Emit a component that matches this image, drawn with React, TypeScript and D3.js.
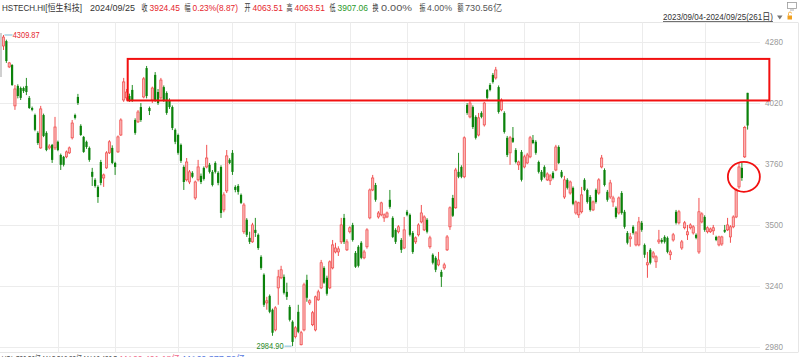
import React from 'react';
import * as d3 from 'd3';

const W = 800;
const H = 357;

// OHLC for 261 trading days, 2023/09/04 - 2024/09/25
const openP = [
  4263, 4284, 4174, 4182, 4008, 4093, 4084, 4084, 4093, 4042, 3999, 3969, 3893, 3829, 3969, 3893, 3829, 3842, 3829, 3855,
  3799, 3791, 3791, 3808, 3872, 3969, 4046, 3923, 3876, 3855, 3829, 3727, 3693, 3663, 3769, 3701, 3744, 3808, 3829, 3765,
  3812, 3884, 4033, 4042, 4050, 4076, 3948, 3940, 4003, 4046, 4169, 3999, 4033, 4140, 4067, 4042, 4088, 4063, 4033, 4003,
  3906, 3884, 3842, 3748, 3693, 3684, 3723, 3616, 3693, 3710, 3744, 3748, 3757, 3727, 3765, 3723, 3748, 3565, 3646, 3778,
  3808, 3663, 3667, 3629, 3472, 3523, 3446, 3429, 3480, 3459, 3365, 3289, 3169, 3199, 3140, 3054, 3233, 3276, 3280, 3216,
  3152, 3089, 3025, 3131, 2991, 3054, 3267, 3169, 3076, 3054, 3182, 3233, 3318, 3276, 3233, 3318, 3386, 3386, 3429, 3531,
  3395, 3472, 3501, 3382, 3408, 3425, 3361, 3408, 3531, 3650, 3671, 3535, 3544, 3531, 3535, 3608, 3531, 3480, 3472, 3437,
  3403, 3557, 3544, 3467, 3429, 3459, 3514, 3480, 3523, 3408, 3374, 3361, 3331, 3301, 3318, 3395, 3493, 3616, 3574, 3727,
  3748, 3706, 4012, 3961, 4003, 3961, 3884, 3978, 3927, 4076, 4097, 4140, 4127, 4088, 3991, 3978, 3872, 3808, 3872, 3820,
  3757, 3812, 3748, 3765, 3791, 3863, 3855, 3769, 3727, 3748, 3693, 3689, 3723, 3735, 3833, 3727, 3620, 3693, 3637, 3659,
  3552, 3544, 3557, 3693, 3650, 3620, 3565, 3650, 3637, 3748, 3735, 3642, 3620, 3599, 3574, 3552, 3637, 3557, 3467, 3442,
  3493, 3416, 3416, 3510, 3416, 3331, 3395, 3365, 3344, 3429, 3437, 3450, 3446, 3374, 3437, 3557, 3510, 3403, 3489, 3459,
  3489, 3467, 3459, 3386, 3514, 3535, 3472, 3472, 3476, 3450, 3416, 3420, 3480, 3480, 3450, 3493, 3535, 3663, 3744, 3791,
  4063.51,
];
const highP = [
  4309.87, 4290, 4195, 4186, 4097, 4100, 4090, 4090, 4127, 4050, 4005, 3975, 3900, 4008, 3975, 3900, 3845, 3846, 3961, 3860,
  3805, 3795, 3818, 3835, 3948, 3975, 4059, 3930, 3880, 3860, 3835, 3744, 3700, 3670, 3778, 3720, 3815, 3862, 3840, 3770,
  3882, 3955, 4127, 4080, 4060, 4097, 3955, 3990, 4020, 4131, 4178, 4005, 4090, 4152, 4080, 4127, 4095, 4070, 4040, 4010,
  3912, 3890, 3848, 3755, 3786, 3735, 3730, 3690, 3778, 3720, 3750, 3842, 3765, 3735, 3772, 3730, 3755, 3640, 3820, 3785,
  3820, 3670, 3675, 3635, 3595, 3530, 3472, 3510, 3531, 3465, 3372, 3295, 3195, 3205, 3145, 3155, 3310, 3327, 3290, 3255,
  3160, 3095, 3070, 3161, 3050, 3255, 3289, 3185, 3135, 3200, 3225, 3352, 3325, 3285, 3350, 3437, 3425, 3410, 3531, 3548,
  3440, 3495, 3510, 3390, 3415, 3432, 3395, 3487, 3656, 3714, 3680, 3560, 3600, 3550, 3558, 3650, 3538, 3487, 3500, 3445,
  3535, 3565, 3550, 3475, 3452, 3508, 3586, 3542, 3530, 3455, 3380, 3368, 3386, 3310, 3340, 3458, 3580, 3629, 3744, 3808,
  3755, 3878, 4020, 4033, 4010, 3968, 3978, 3985, 4025, 4080, 4105, 4148, 4174, 4095, 4040, 3985, 3880, 3880, 3918, 3828,
  3775, 3820, 3800, 3808, 3880, 3884, 3862, 3775, 3735, 3755, 3725, 3718, 3730, 3842, 3840, 3735, 3710, 3700, 3690, 3665,
  3605, 3600, 3663, 3700, 3656, 3628, 3605, 3656, 3700, 3799, 3742, 3650, 3693, 3625, 3580, 3622, 3645, 3565, 3475, 3467,
  3500, 3475, 3535, 3518, 3422, 3386, 3402, 3390, 3372, 3480, 3445, 3457, 3452, 3395, 3467, 3565, 3565, 3437, 3518, 3501,
  3508, 3500, 3465, 3616, 3555, 3542, 3495, 3490, 3501, 3455, 3455, 3455, 3501, 3531, 3500, 3542, 3656, 3765, 3765, 3923,
  4063.51,
];
const lowP = [
  4246, 4191, 4169, 4093, 3991, 4040, 4033, 4063, 4054, 3995, 3985, 3900, 3842, 3825, 3875, 3815, 3822, 3765, 3820, 3815,
  3735, 3750, 3785, 3803, 3865, 3950, 4012, 3880, 3808, 3825, 3770, 3667, 3660, 3595, 3670, 3663, 3740, 3803, 3760, 3714,
  3808, 3880, 4025, 4030, 4025, 4025, 3885, 3935, 3940, 4040, 4040, 3969, 4020, 4025, 4012, 4035, 4025, 3970, 3995, 3905,
  3845, 3800, 3765, 3650, 3686, 3675, 3700, 3608, 3686, 3675, 3690, 3742, 3720, 3665, 3720, 3670, 3531, 3555, 3637, 3760,
  3714, 3640, 3630, 3590, 3463, 3450, 3420, 3425, 3450, 3395, 3310, 3152, 3140, 3125, 3029, 3048, 3161, 3270, 3205, 3182,
  3090, 2984.9, 3018, 3040, 2988, 3048, 3174, 3160, 3070, 3048, 3178, 3228, 3250, 3200, 3228, 3312, 3380, 3369, 3420, 3420,
  3390, 3465, 3430, 3318, 3320, 3355, 3355, 3400, 3525, 3645, 3600, 3528, 3538, 3514, 3530, 3570, 3445, 3420, 3465, 3382,
  3398, 3538, 3452, 3378, 3420, 3452, 3508, 3475, 3465, 3400, 3333, 3300, 3325, 3237, 3310, 3390, 3480, 3535, 3570, 3700,
  3700, 3700, 3970, 3955, 3910, 3865, 3878, 3955, 3920, 4035, 4070, 4103, 4120, 3975, 3985, 3890, 3790, 3757, 3850, 3763,
  3735, 3686, 3742, 3760, 3785, 3845, 3800, 3720, 3686, 3700, 3688, 3671, 3695, 3730, 3760, 3700, 3612, 3652, 3630, 3585,
  3545, 3531, 3550, 3645, 3592, 3558, 3560, 3592, 3630, 3742, 3665, 3600, 3612, 3578, 3528, 3545, 3545, 3485, 3418, 3408,
  3460, 3410, 3410, 3472, 3361, 3276, 3333, 3358, 3318, 3420, 3422, 3422, 3380, 3352, 3430, 3503, 3503, 3395, 3482, 3437,
  3482, 3460, 3440, 3378, 3508, 3472, 3465, 3467, 3459, 3432, 3410, 3412, 3467, 3475, 3425, 3487, 3530, 3655, 3689, 3786,
  3907.06,
];
const closeP = [
  4301, 4199, 4191, 4097, 4080, 4050, 4042, 4071, 4067, 3999, 3991, 3906, 3850, 3995, 3880, 3820, 3837, 3778, 3918, 3820,
  3757, 3757, 3812, 3829, 3935, 3957, 4020, 3884, 3812, 3833, 3778, 3706, 3667, 3620, 3680, 3714, 3808, 3855, 3765, 3748,
  3876, 3948, 4110, 4067, 4033, 4033, 3893, 3982, 3948, 4123, 4050, 3986, 4084, 4033, 4020, 4118, 4033, 3978, 4003, 3914,
  3855, 3808, 3774, 3684, 3769, 3727, 3706, 3684, 3748, 3684, 3697, 3786, 3727, 3671, 3727, 3680, 3552, 3629, 3795, 3765,
  3727, 3650, 3642, 3595, 3586, 3459, 3429, 3501, 3467, 3403, 3318, 3161, 3178, 3131, 3042, 3148, 3280, 3310, 3212, 3195,
  3097, 3003, 3063, 3046, 3042, 3246, 3191, 3178, 3127, 3195, 3216, 3340, 3255, 3208, 3344, 3416, 3403, 3399, 3501, 3429,
  3429, 3489, 3437, 3323, 3327, 3361, 3386, 3480, 3650, 3701, 3608, 3552, 3595, 3544, 3552, 3578, 3450, 3429, 3493, 3395,
  3480, 3544, 3459, 3386, 3446, 3501, 3552, 3535, 3472, 3446, 3340, 3310, 3352, 3280, 3331, 3450, 3574, 3540, 3735, 3706,
  3706, 3872, 3978, 4020, 3918, 3872, 3957, 3961, 4020, 4042, 4076, 4110, 4161, 3982, 4033, 3897, 3799, 3872, 3855, 3769,
  3769, 3693, 3791, 3799, 3872, 3850, 3808, 3727, 3693, 3706, 3718, 3710, 3701, 3833, 3765, 3706, 3693, 3659, 3684, 3591,
  3599, 3595, 3629, 3650, 3599, 3565, 3599, 3599, 3693, 3786, 3671, 3608, 3680, 3616, 3535, 3616, 3552, 3493, 3425, 3450,
  3467, 3467, 3514, 3480, 3374, 3340, 3340, 3382, 3365, 3437, 3429, 3429, 3386, 3386, 3459, 3510, 3557, 3429, 3510, 3472,
  3501, 3493, 3446, 3557, 3548, 3480, 3489, 3484, 3489, 3437, 3450, 3450, 3472, 3501, 3493, 3535, 3650, 3748, 3701, 3915.58,
  3924.45,
];

const yTicks = [4280, 4020, 3760, 3500, 3240, 2980];
// index of first trading day of each month (Oct 2023 ... Sep 2024)
const monthStartIdx = [19, 39, 61, 80, 102, 121, 141, 161, 182, 201, 223, 245];

// annotations
const zoneLow = 4031;
const zoneHigh = 4208;
const zoneStartIdx = 43.4;
const zoneEndIdx = 267.6;
const circleIdx = 258.7;
const circlePrice = 3706;

const headerItems = [
  { t: 'HSTECH.HI[恒生科技]', x: 2, w: 80, c: '#333' },
  { t: '2024/09/25', x: 90, w: 45, c: '#333' },
  { t: '收', x: 141.5, w: 6, c: '#333' },
  { t: '3924.45', x: 149.5, w: 30.5, c: '#e5262d' },
  { t: '幅', x: 184.5, w: 6, c: '#333' },
  { t: '0.23%(8.87)', x: 192.5, w: 45.5, c: '#e5262d' },
  { t: '开', x: 244.5, w: 6, c: '#333' },
  { t: '4063.51', x: 252.5, w: 30.5, c: '#e5262d' },
  { t: '高', x: 286.5, w: 6, c: '#333' },
  { t: '4063.51', x: 294.5, w: 30.5, c: '#e5262d' },
  { t: '低', x: 329.5, w: 6, c: '#333' },
  { t: '3907.06', x: 337.5, w: 30.5, c: '#2a9a2a' },
  { t: '换', x: 372.5, w: 6, c: '#333' },
  { t: '0.00%', x: 381, w: 31, c: '#555' },
  { t: '振', x: 419.5, w: 6, c: '#333' },
  { t: '4.00%', x: 427, w: 25, c: '#555' },
  { t: '额', x: 457.5, w: 6, c: '#333' },
  { t: '730.56亿', x: 465, w: 37, c: '#555' },
];

const footerItems = [
  { t: 'VOL:730.56亿 MA5:512.33亿 MA10:436.7', x: 2, w: 115, c: '#555' },
  { t: 'MA20:401.18亿', x: 120, w: 60, c: '#f06a8a' },
  { t: 'MA60:377.52亿', x: 183, w: 62, c: '#5a7be0' },
];

export default function App() {
  const n = openP.length;
  const x = d3.scaleLinear().domain([0, n - 1]).range([3.5, 747.6]);
  const y = d3.scaleLinear().domain([2980, 4280]).range([347.3, 42]);
  const font = '"Liberation Sans", Arial, "Noto Sans CJK SC", sans-serif';
  const bw = 2.2;

  const candles = d3.range(n).map((i) => {
    const o = openP[i], h = highP[i], l = lowP[i], c = closeP[i];
    const up = c >= o;
    const cx = x(i);
    const top = y(Math.max(o, c));
    const bot = y(Math.min(o, c));
    const col = up ? '#f03c3c' : '#0b820b';
    return (
      <g key={i}>
        <line x1={cx} x2={cx} y1={y(h)} y2={y(l)} stroke={col} strokeWidth={0.9} />
        {up ? (
          <rect x={cx - bw / 2} y={top} width={bw} height={Math.max(bot - top, 0.8)} fill="#f9b4b4" stroke="#f04848" strokeWidth={0.7} />
        ) : (
          <rect x={cx - bw / 2} y={top} width={bw} height={Math.max(bot - top, 0.8)} fill={col} />
        )}
      </g>
    );
  });

  const maxI = d3.maxIndex(highP);
  const minI = d3.minIndex(lowP);

  return (
    <svg width={W} height={H} style={{ position: 'absolute', left: 0, top: 0, background: '#fff' }} fontFamily={font}>
      <rect x={0} y={0} width={W} height={H} fill="#fff" />
      {/* grid */}
      <line x1={0} x2={798} y1={22.5} y2={22.5} stroke="#e6e6e6" />
      <line x1={0} x2={798} y1={352.5} y2={352.5} stroke="#e6e6e6" />
      <line x1={798.5} x2={798.5} y1={22.5} y2={352.5} stroke="#e6e6e6" />
      {yTicks.map((v) => (
        <line key={v} x1={0} x2={760} y1={Math.round(y(v)) + 0.5} y2={Math.round(y(v)) + 0.5} stroke="#ececec" />
      ))}
      {monthStartIdx.map((i) => (
        <line key={i} x1={Math.round(x(i)) + 0.5} x2={Math.round(x(i)) + 0.5} y1={22.5} y2={352.5} stroke="#ececec" />
      ))}
      <rect x={0} y={33} width={2} height={44} fill="#d0d0d0" />
      {/* axis labels */}
      {yTicks.map((v) => (
        <text key={v} x={765} y={y(v) + 3} fontSize={8.5} fill="#9a9a9a" textLength={18} lengthAdjust="spacingAndGlyphs">
          {v}
        </text>
      ))}
      {/* candles */}
      {candles}
      {/* extremes */}
      <line x1={x(maxI) + 1} x2={x(maxI) + 9} y1={y(highP[maxI])} y2={y(highP[maxI])} stroke="#5aa9c9" strokeWidth={0.8} />
      <text x={x(maxI) + 9.2} y={y(highP[maxI]) + 3} fontSize={9} fill="#e5262d" textLength={27} lengthAdjust="spacingAndGlyphs">
        {highP[maxI].toFixed(2)}
      </text>
      <line x1={x(minI) - 8} x2={x(minI) - 1} y1={y(lowP[minI])} y2={y(lowP[minI])} stroke="#5aa9c9" strokeWidth={0.8} />
      <text x={x(minI) - 36} y={y(lowP[minI]) + 3} fontSize={9} fill="#2a8a2a" textLength={27} lengthAdjust="spacingAndGlyphs">
        {lowP[minI].toFixed(2)}
      </text>
      {/* annotations */}
      <rect
        x={x(zoneStartIdx)}
        y={y(zoneHigh)}
        width={x(zoneEndIdx) - x(zoneStartIdx)}
        height={y(zoneLow) - y(zoneHigh)}
        fill="none"
        stroke="#f21010"
        strokeWidth={2}
      />
      <ellipse cx={x(circleIdx)} cy={y(circlePrice)} rx={16} ry={15} fill="none" stroke="#f21010" strokeWidth={1.8} />
      {/* header */}
      {headerItems.map((d, k) => (
        <text key={k} x={d.x} y={10.5} fontSize={9} fill={d.c} textLength={d.w} lengthAdjust="spacingAndGlyphs">
          {d.t}
        </text>
      ))}
      <text x={663} y={20} fontSize={9} fill="#333" textLength={110} lengthAdjust="spacingAndGlyphs">
        2023/09/04-2024/09/25(261日)
      </text>
      <line x1={663} x2={773} y1={21.5} y2={21.5} stroke="#333" strokeWidth={0.7} />
      <path d="M777,15.5 h5.5 l-2.75,4 z" fill="#777" />
      <rect x={787.5} y={15.5} width={4.5} height={4} fill="#f0a020" />
      <path d="M788.5,15.5 v-2 a1.5,1.5 0 0 1 3,0" fill="none" stroke="#f0a020" strokeWidth={0.8} />
      <rect x={787.5} y={2.5} width={9} height={6} fill="none" stroke="#999" strokeWidth={0.8} />
      <line x1={790} x2={794} y1={10} y2={10} stroke="#999" strokeWidth={0.8} />
      {/* footer (cut off at the window edge, as in the reference) */}
      {footerItems.map((d, k) => (
        <text key={k} x={d.x} y={362} fontSize={9} fill={d.c} textLength={d.w} lengthAdjust="spacingAndGlyphs">
          {d.t}
        </text>
      ))}
    </svg>
  );
}
